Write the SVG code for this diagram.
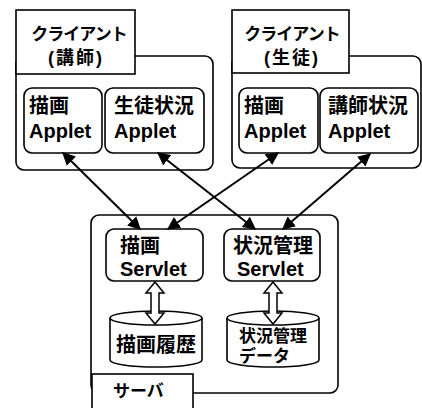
<svg xmlns="http://www.w3.org/2000/svg" width="422" height="408" viewBox="0 0 422 408">
<style>
  .box{fill:#fff;stroke:#000;stroke-width:1.6}
  .t{font-family:"Liberation Sans","Noto Sans CJK JP",sans-serif;font-weight:bold;fill:#000}
  .t20{font-size:20px}
  .t17{font-size:17px}
  .lbl{font-size:17px;letter-spacing:-1px}
  .lbl2{font-size:18px;letter-spacing:2px}
  .con{stroke:#000;stroke-width:2;fill:none;marker-start:url(#ah);marker-end:url(#ah)}
  .harrow{fill:#fff;stroke:#000;stroke-width:1.5;stroke-linejoin:miter}
</style>
<defs>
  <marker id="ah" viewBox="0 0 10 10" refX="9" refY="5" markerWidth="6.5" markerHeight="6.5" orient="auto-start-reverse" markerUnits="strokeWidth">
    <path d="M0,0 L10,5 L0,10 z" fill="#000"/>
  </marker>
</defs>
<rect width="422" height="408" fill="#fff"/>

<g id="client-teacher">
  <rect class="box" x="16" y="56" width="197" height="114" rx="8"/>
  <rect class="box" x="16" y="10" width="119" height="64"/>
  <text class="t lbl" x="79" y="40" text-anchor="middle">クライアント</text>
  <text class="t lbl2" x="76" y="64" text-anchor="middle">(講師)</text>
</g>
<g id="applet-draw-1">
  <rect class="box" x="24" y="88" width="78" height="65" rx="8"/>
  <text class="t t20" x="29" y="113">描画</text>
  <text class="t t20" x="29" y="138">Applet</text>
</g>
<g id="applet-student-status">
  <rect class="box" x="105" y="88" width="99" height="65" rx="8"/>
  <text class="t t20" x="114" y="113">生徒状況</text>
  <text class="t t20" x="114" y="138">Applet</text>
</g>

<g id="client-student">
  <rect class="box" x="232" y="56" width="189" height="112" rx="8"/>
  <rect class="box" x="232" y="10" width="117" height="63"/>
  <text class="t lbl" x="292" y="40" text-anchor="middle">クライアント</text>
  <text class="t lbl2" x="292" y="64" text-anchor="middle">(生徒)</text>
</g>
<g id="applet-draw-2">
  <rect class="box" x="239" y="88" width="79" height="65" rx="8"/>
  <text class="t t20" x="244" y="113">描画</text>
  <text class="t t20" x="244" y="138">Applet</text>
</g>
<g id="applet-teacher-status">
  <rect class="box" x="320" y="88" width="98" height="65" rx="8"/>
  <text class="t t20" x="328" y="113">講師状況</text>
  <text class="t t20" x="328" y="138">Applet</text>
</g>

<g id="server">
  <rect class="box" x="91" y="215" width="247" height="178" rx="8"/>
  <rect class="box" x="92" y="374" width="101" height="40"/>
  <text class="t t17" x="113" y="397">サーバ</text>
</g>
<g id="servlet-draw">
  <rect class="box" x="106" y="229" width="97" height="52" rx="8"/>
  <text class="t t20" x="120" y="253">描画</text>
  <text class="t t20" x="120" y="276">Servlet</text>
</g>
<g id="servlet-status">
  <rect class="box" x="224" y="229" width="96" height="52" rx="8"/>
  <text class="t t20" x="233" y="253">状況管理</text>
  <text class="t t20" x="237" y="276">Servlet</text>
</g>
<g id="db-draw-history">
  <path class="box" d="M110,318 L110,360 A46,7 0 0 0 202,360 L202,318"/>
  <ellipse class="box" cx="156" cy="318" rx="46" ry="7"/>
  <text class="t t20" x="156" y="352" text-anchor="middle">描画履歴</text>
</g>
<g id="db-status-data">
  <path class="box" d="M227,318 L227,360 A46,7 0 0 0 319,360 L319,318"/>
  <ellipse class="box" cx="273" cy="318" rx="46" ry="7"/>
  <text class="t t17" x="239" y="342">状況管理</text>
  <text class="t t17" x="239" y="362">データ</text>
</g>

<g id="connectors">
  <line class="con" x1="63" y1="153" x2="140" y2="229"/>
  <line class="con" x1="158" y1="153" x2="255" y2="229"/>
  <line class="con" x1="278" y1="153" x2="168" y2="229"/>
  <line class="con" x1="370" y1="154" x2="283" y2="229"/>
  <polygon class="harrow" points="155,282 164,293 159,293 159,313 164,313 155,324 146,313 151,313 151,293 146,293"/>
  <polygon class="harrow" points="273,282 282,293 277,293 277,313 282,313 273,324 264,313 269,313 269,293 264,293"/>
</g>
</svg>
